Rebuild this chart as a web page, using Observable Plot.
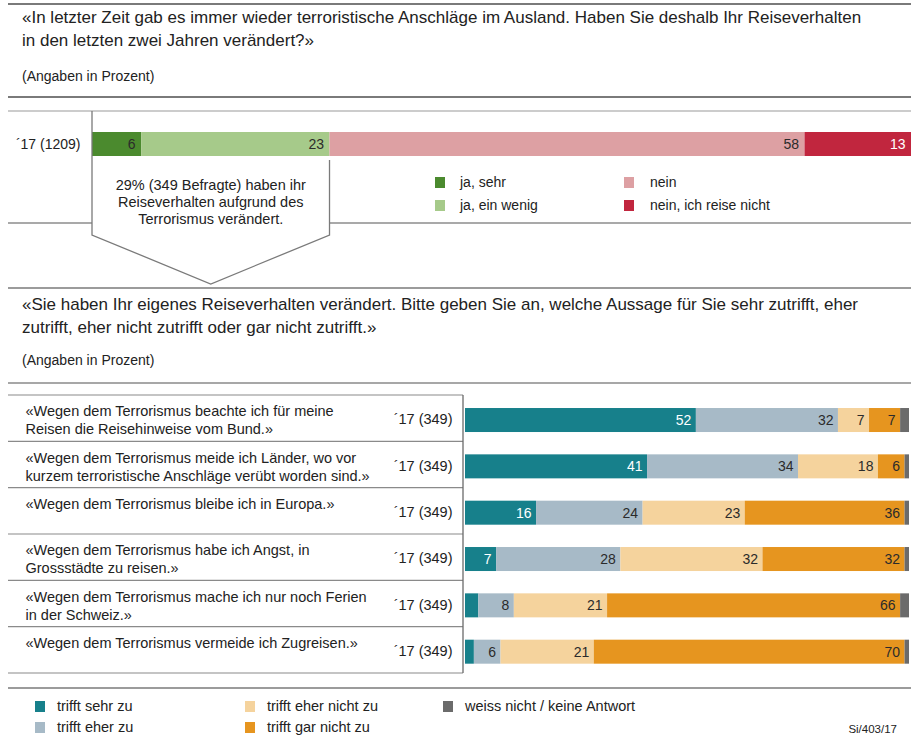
<!DOCTYPE html>
<html><head><meta charset="utf-8">
<script src="https://cdn.jsdelivr.net/npm/d3@7"></script>
<script src="https://cdn.jsdelivr.net/npm/@observablehq/plot@0.6"></script>
<style>
body{margin:0;background:#fff;}
#page{position:relative;width:911px;height:742px;overflow:hidden;font-family:"Liberation Sans",Arial,sans-serif;color:#222;background:#fff;}
.t{position:absolute;white-space:nowrap;}
.abs{position:absolute;left:0;}
.sq{position:absolute;width:10px;height:11px;}
</style></head><body><div id="page"></div>
<script>
// ---------- DATA ----------
const q1Title = ["«In letzter Zeit gab es immer wieder terroristische Anschläge im Ausland. Haben Sie deshalb Ihr Reiseverhalten",
                 "in den letzten zwei Jahren verändert?»"];
const unitNote = "(Angaben in Prozent)";
const q1Label = "´17 (1209)";
const q1Cats = ["ja, sehr", "ja, ein wenig", "nein", "nein, ich reise nicht"];
const q1Values = [6, 23, 58, 13];
const q1Colors = ["#4b8a2e", "#a6ca8a", "#dda0a3", "#c1263e"];
const q2N = 349;

const q2Title = ["«Sie haben Ihr eigenes Reiseverhalten verändert. Bitte geben Sie an, welche Aussage für Sie sehr zutrifft, eher",
                 "zutrifft, eher nicht zutrifft oder gar nicht zutrifft.»"];
const q2Statements = [
  "«Wegen dem Terrorismus beachte ich für meine\nReisen die Reisehinweise vom Bund.»",
  "«Wegen dem Terrorismus meide ich Länder, wo vor\nkurzem terroristische Anschläge verübt worden sind.»",
  "«Wegen dem Terrorismus bleibe ich in Europa.»",
  "«Wegen dem Terrorismus habe ich Angst, in\nGrossstädte zu reisen.»",
  "«Wegen dem Terrorismus mache ich nur noch Ferien\nin der Schweiz.»",
  "«Wegen dem Terrorismus vermeide ich Zugreisen.»"
];
const q2Sample = "´17 (349)";
const q2Cats = ["trifft sehr zu", "trifft eher zu", "trifft eher nicht zu", "trifft gar nicht zu", "weiss nicht / keine Antwort"];
const q2Colors = ["#17808b", "#a7bac7", "#f5d39d", "#e6951f", "#6b6b6b"];
const trifftSehr      = [52, 41, 16, 7, 3, 2];
const trifftEher      = [32, 34, 24, 28, 8, 6];
const trifftEherNicht = [7, 18, 23, 32, 21, 21];
const trifftGarNicht  = [7, 6, 36, 32, 66, 70];
const weissNicht      = [2, 1, 1, 1, 2, 1];
const sourceNote = "Si/403/17";

// ---------- LAYOUT ----------
const FONT = '"Liberation Sans", Arial, sans-serif';
const page = document.getElementById("page");
function addText(txt, x, yCenter, size, opts = {}) {
  const d = document.createElement("div");
  d.className = "t";
  const lh = opts.lh || Math.round(size * 1.4);
  d.style.lineHeight = lh + "px";
  d.style.fontSize = size + "px";
  d.style.top = (yCenter - lh / 2) + "px";
  if (opts.center) { d.style.left = (x - 200) + "px"; d.style.width = "400px"; d.style.textAlign = "center"; }
  else if (opts.right) { d.style.right = (911 - x) + "px"; }
  else d.style.left = x + "px";
  if (opts.color) d.style.color = opts.color;
  d.textContent = txt;
  page.appendChild(d);
  return d;
}
function addSquare(x, yCenter, color) {
  const s = document.createElement("div");
  s.className = "sq";
  s.style.left = x + "px"; s.style.top = (yCenter - 5.5) + "px"; s.style.background = color;
  page.appendChild(s);
}

// Titles
addText(q1Title[0], 22, 18, 17);
addText(q1Title[1], 22, 41, 17);
addText(unitNote, 22, 76, 14);
addText(q2Title[0], 22, 305, 17);
addText(q2Title[1], 22, 328, 17);
addText(unitNote, 22, 360, 14);

// ---------- TOP CHART ----------
const topSegs = [];
{ let acc = 0; q1Cats.forEach((c, j) => { topSegs.push({cat: c, j, v: q1Values[j], x1: acc, x2: acc + q1Values[j]}); acc += q1Values[j]; }); }
const TOP_Y = 126, TOP_H = 36;
const topChart = Plot.plot({
  width: 911, height: TOP_H, marginLeft: 92, marginRight: 0, marginTop: 0, marginBottom: 0,
  style: {background: "transparent", fontFamily: FONT, fontSize: "14px", overflow: "visible", color: "#222"},
  x: {domain: [0, 100], axis: null},
  y: {domain: [-0.5, 0.5], range: [0, TOP_H], axis: null},
  color: {domain: q1Cats, range: q1Colors},
  marks: [
    Plot.rect(topSegs, {x1: "x1", x2: "x2", y1: -1/3, y2: 1/3, fill: "cat"}),
    Plot.text(topSegs.filter(d => d.j < 3), {x: "x2", y: 0, text: d => String(d.v), textAnchor: "end", dx: -6, fill: "#2b2b2b", fontSize: 14}),
    Plot.text(topSegs.filter(d => d.j === 3), {x: "x2", y: 0, text: d => String(d.v), textAnchor: "end", dx: -6, fill: "#ffffff", fontSize: 14}),
    Plot.text([q1Label], {frameAnchor: "left", text: d => d, textAnchor: "end", dx: -12, fill: "#222", fontSize: 14})
  ]
});
const topWrap = document.createElement("div");
topWrap.className = "abs"; topWrap.style.top = TOP_Y + "px";
topWrap.appendChild(topChart);
page.appendChild(topWrap);

// ---------- BOTTOM CHART ----------
const series = [trifftSehr, trifftEher, trifftEherNicht, trifftGarNicht, weissNicht];
const rows = q2Statements.map((s, i) => ({i, s}));
const segs = [];
rows.forEach(r => { let acc = 0; series.forEach((ser, j) => { const v = ser[r.i]; segs.push({i: r.i, j, cat: q2Cats[j], v, x1: acc, x2: acc + v}); acc += v; }); });
const BOT_Y = 395, BOT_H = 278;
const botChart = Plot.plot({
  width: 911, height: BOT_H, marginLeft: 465, marginRight: 2, marginTop: 0, marginBottom: 0,
  style: {background: "transparent", fontFamily: FONT, fontSize: "14px", overflow: "visible", color: "#222"},
  x: {domain: [0, 100], axis: null},
  y: {domain: [-0.5, 5.5], range: [0, BOT_H], axis: null},
  color: {domain: q2Cats, range: q2Colors},
  marks: [
    Plot.rect(segs, {x1: "x1", x2: "x2", y1: d => d.i - 0.219, y2: d => d.i + 0.299, fill: "cat"}),
    Plot.text(segs.filter(d => d.j === 0 && d.v >= 5), {x: "x2", y: d => d.i + 0.04, text: d => String(d.v), textAnchor: "end", dx: -5, fill: "#ffffff", fontSize: 14}),
    Plot.text(segs.filter(d => d.j > 0 && d.j < 4 && d.v >= 5), {x: "x2", y: d => d.i + 0.04, text: d => String(d.v), textAnchor: "end", dx: -5, fill: "#2b2b2b", fontSize: 14}),
    Plot.text(rows, {frameAnchor: "left", y: d => d.i - 0.5, text: "s", textAnchor: "start", lineAnchor: "top", dx: -440, dy: 8, lineHeight: 1.25, fill: "#222", fontSize: 14.5}),
    Plot.text(rows, {frameAnchor: "left", y: d => d.i + 0.02, text: () => q2Sample, textAnchor: "end", dx: -13, fill: "#222", fontSize: 14.5})
  ]
});
const botWrap = document.createElement("div");
botWrap.className = "abs"; botWrap.style.top = BOT_Y + "px";
botWrap.appendChild(botChart);
page.appendChild(botWrap);

// ---------- DECORATION OVERLAY ----------
const ns = "http://www.w3.org/2000/svg";
const ov = document.createElementNS(ns, "svg");
ov.setAttribute("width", 911); ov.setAttribute("height", 742);
ov.style.position = "absolute"; ov.style.left = "0"; ov.style.top = "0"; ov.style.pointerEvents = "none";
page.appendChild(ov);
function line(x1, y1, x2, y2, w = 1.3, c = "#8c8c8c") {
  const l = document.createElementNS(ns, "line");
  l.setAttribute("x1", x1); l.setAttribute("y1", y1); l.setAttribute("x2", x2); l.setAttribute("y2", y2);
  l.setAttribute("stroke", c); l.setAttribute("stroke-width", w);
  ov.appendChild(l);
}
const tx = topChart.scale("x");
const xa = tx.apply(0), xb = tx.apply(q1Values[0] + q1Values[1]);
const xm = (xa + xb) / 2;
line(8, 4, 911, 4, 1.8, "#7a7a7a");
line(8, 97, 911, 97, 1.8, "#7a7a7a");
line(8, 111, 911, 111, 1.2, "#9a9a9a");
line(8, 223, xa, 223); line(xb, 223, 911, 223);
line(8, 288, 911, 288, 1.6, "#7a7a7a");
line(8, 383, 911, 383, 1.3, "#8a8a8a");
line(8, 688, 911, 688, 1.6, "#7a7a7a");
// callout
const path = document.createElementNS(ns, "path");
path.setAttribute("d", `M${xa},111 L${xa},235 L${xm},284 L${xb},235 L${xb},160`);
path.setAttribute("fill", "none"); path.setAttribute("stroke", "#7a7a7a"); path.setAttribute("stroke-width", 1.3);
ov.appendChild(path);
// row separators and axis
const by = botChart.scale("y"), bx = botChart.scale("x");
const axisX = bx.apply(0) - 2;
for (let k = 0; k <= rows.length; k++) {
  const y = BOT_Y + by.apply(k - 0.5);
  line(8, y, axisX, y, 1.2, "#8a8a8a");
}
line(axisX, BOT_Y + by.apply(-0.5), axisX, BOT_Y + by.apply(rows.length - 0.5), 1.3, "#6a6a6a");

// callout text
const jaSum = q1Values[0] + q1Values[1];
addText(`${jaSum}% (${q2N} Befragte) haben ihr`, xm, 185, 14.5, {center: true, lh: 17});
addText("Reiseverhalten aufgrund des", xm, 202, 14.5, {center: true, lh: 17});
addText("Terrorismus verändert.", xm, 219, 14.5, {center: true, lh: 17});

// top legend
[[0, 435, 182], [1, 435, 205], [2, 624, 182], [3, 624, 205]].forEach(([j, x, y]) => {
  addSquare(x, y, q1Colors[j]);
  addText(q1Cats[j], x + (j < 2 ? 25 : 26), y, 14);
});
// bottom legend
[[0, 35, 706], [1, 35, 727], [2, 245, 706], [3, 245, 727], [4, 443, 706]].forEach(([j, x, y]) => {
  addSquare(x, y, q2Colors[j]);
  addText(q2Cats[j], x + 22, y, 14.5);
});
addText(sourceNote, 897, 729, 11.5, {right: true});
</script></body></html>
